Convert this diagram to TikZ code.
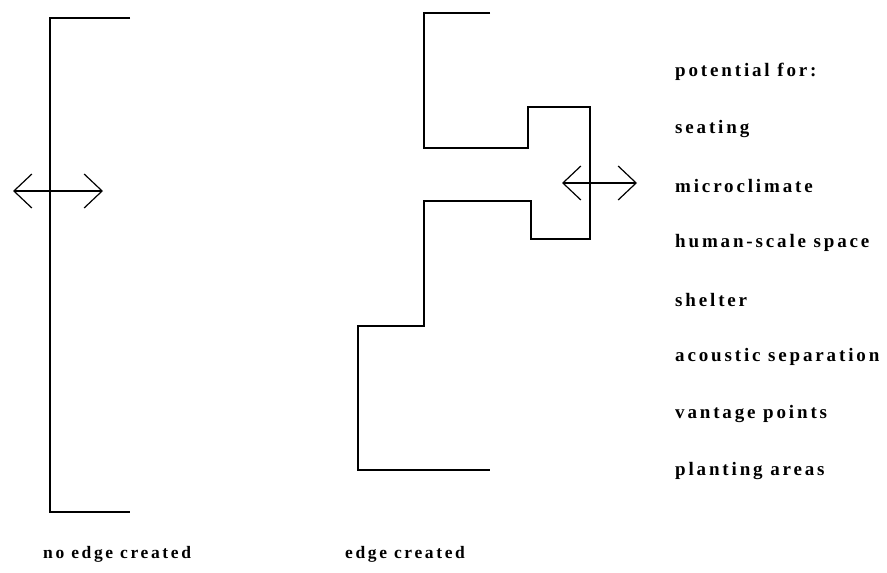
\documentclass[tikz,border=0pt]{standalone}
\usepackage{fontspec}
\setmainfont[LetterSpace=15]{Liberation Serif}
\usetikzlibrary{arrows.meta}
\tikzset{
  wall/.style={line width=1.7pt, black, line join=miter},
  move/.style={line width=1.3pt, black,
               {Straight Barb[length=18pt, width=34pt, line width=1.2pt]}-{Straight Barb[length=18pt, width=34pt, line width=1.2pt]}},
  potlabel/.style={anchor=west, inner sep=0pt, font=\fontsize{19}{21}\selectfont\bfseries},
  caption/.style={anchor=west, inner sep=0pt, font=\fontsize{17.5}{20}\selectfont\bfseries},
}
\begin{document}
\begin{tikzpicture}[x=1pt, y=-1pt]
  \useasboundingbox (0,0) rectangle (887,573);
  % straight edge
  \draw[wall] (130,18) -- (50,18) -- (50,512) -- (130,512);
  \coordinate (la) at (13,191);
  \coordinate (lb) at (103,191);
  \draw[move] (la) -- (lb);
  % stepped edge
  \draw[wall] (490,13) -- (424,13) -- (424,148) -- (528,148) -- (528,107)
    -- (590,107) -- (590,239) -- (531,239) -- (531,201) -- (424,201)
    -- (424,326) -- (358,326) -- (358,470) -- (490,470);
  \coordinate (ra) at (562,183);
  \coordinate (rb) at (637,183);
  \draw[move] (ra) -- (rb);
  % potentials
  \node[potlabel] (head) at (675,72) {potential for:};
  \foreach \i/\txt in {1/seating,2/microclimate,3/human-scale space,4/shelter,
                       5/acoustic separation,6/vantage points,7/planting areas} {
    \node[potlabel] (pot\i) at (675,{72+57*\i}) {\txt};
  }
  \node[caption] (noedge) at (43,554) {no edge created};
  \node[caption] (edge) at (345,554) {edge created};
\end{tikzpicture}
\end{document}
